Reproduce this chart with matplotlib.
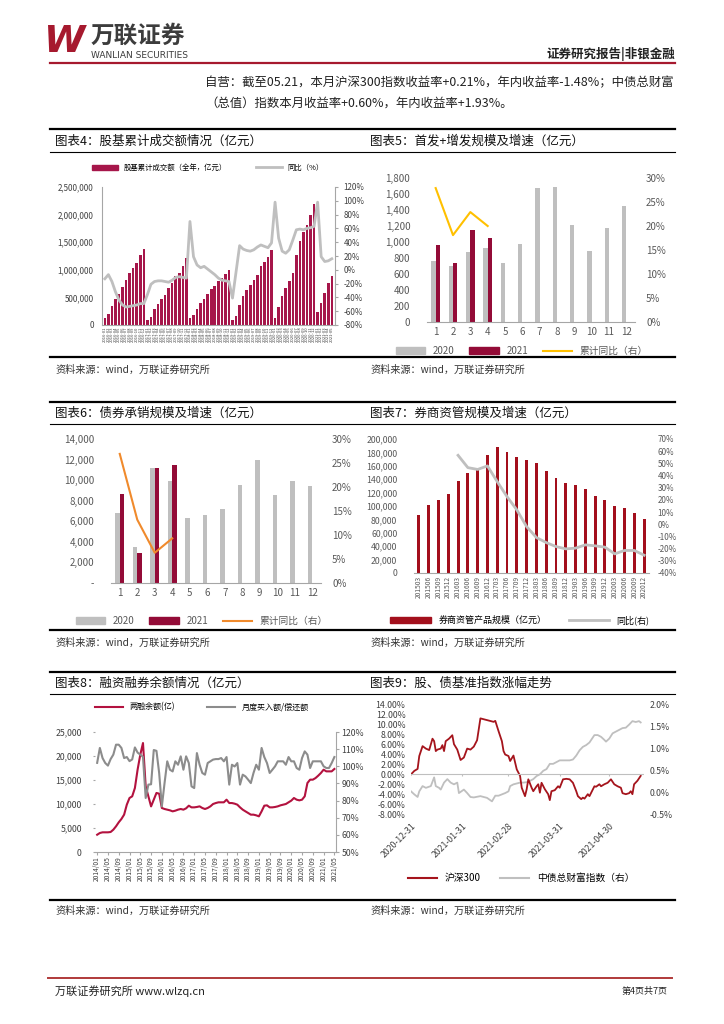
import matplotlib
matplotlib.use('Agg')
import matplotlib.pyplot as plt
from matplotlib.lines import Line2D
from matplotlib.patches import Patch
from matplotlib.ticker import FuncFormatter
import numpy as np

plt.rcParams['font.family'] = ['Noto Sans CJK SC', 'DejaVu Sans']
plt.rcParams['axes.unicode_minus'] = False

W, H = 724, 1024

# chart 4: stock + fund cumulative turnover (亿元) and yoy (%)
turn_2016 = [130000, 200000, 350000, 470000, 570000, 680000, 820000, 940000, 1030000, 1120000, 1270000, 1380000]
turn_2017 = [85000, 150000, 290000, 380000, 480000, 550000, 670000, 760000, 890000, 950000, 1060000, 1220000]
turn_2018 = [130000, 180000, 290000, 390000, 480000, 560000, 650000, 710000, 790000, 850000, 930000, 1000000]
turn_2019 = [85000, 160000, 360000, 530000, 640000, 730000, 820000, 900000, 1060000, 1140000, 1240000, 1360000]
turn_2020 = [120000, 330000, 530000, 670000, 790000, 940000, 1270000, 1520000, 1680000, 1820000, 2000000, 2200000]
turn_2021 = [230000, 390000, 580000, 760000, 880000]
yoy_2016 = [-13, -7, -17, -32, -44, -51, -54, -53, -52, -51, -49, -49]
yoy_2017 = [-36, -21, -17, -16, -16, -17, -18, -15, -11, -10, -11, -12]
yoy_2018 = [70, 19, 7, 3, 5, 1, -3, -7, -12, -15, -16, -17]
yoy_2019 = [-41, -3, 35, 30, 28, 27, 29, 33, 36, 34, 32, 39]
yoy_2020 = [98, 46, 27, 24, 29, 43, 58, 59, 58, 60, 61, 63]
yoy_2021 = [98, 19, 12, 13, 16]
years_4 = ['2016', '2017', '2018', '2019', '2020', '2021']

# chart 5 / 6: months 1-12
months = ['1', '2', '3', '4', '5', '6', '7', '8', '9', '10', '11', '12']
ipo_2020 = [760, 700, 880, 925, 740, 980, 1680, 1690, 1210, 890, 1170, 1455]
ipo_2021 = [962, 741, 1151, 1046]
ipo_yoy = [27.9, 18.1, 22.9, 20.0]
bond_2020 = [6850, 3470, 11140, 9900, 6360, 6590, 7210, 9480, 11950, 8540, 9900, 9420]
bond_2021 = [8700, 2920, 11140, 11430]
bond_yoy = [26.9, 13.2, 6.3, 9.3]

# chart 7: broker asset management
quarters = ['201503', '201506', '201509', '201512', '201603', '201606', '201609', '201612',
            '201703', '201706', '201709', '201712', '201803', '201806', '201809', '201812',
            '201903', '201906', '201909', '201912', '202003', '202006', '202009', '202012']
am_size = [87000, 102000, 109000, 118000, 137000, 149000, 156000, 176000, 187500, 180500, 173000, 168500,
           164500, 152000, 141500, 134000, 132000, 125000, 115000, 109000, 100000, 97000, 90000, 80000]
am_yoy = [56.6, 46.5, 45.0, 47.9, 35.0, 22.7, 11.8, -1.9, -10.9, -15.0, -18.3, -20.2,
          -19.6, -16.9, -17.7, -18.8, -24.3, -21.5, -21.5, -25.4]

# chart 8: margin balance (monthly, 2014/01 - 2021/05)
margin_bal = [3600, 3960, 4100, 4100, 4100, 4170, 4650, 5350, 6180, 6880, 7780, 9860,
              11250, 11600, 13330, 17150, 20280, 22700, 13700, 11600, 9500, 10900, 12300, 12150,
              9170, 8960, 8820, 8680, 8470, 8610, 8820, 8960, 8820, 9100, 9650, 9300,
              9300, 9380, 9510, 9170, 8960, 9170, 9510, 10000, 10200, 10350, 10350, 10350,
              10900, 10200, 10200, 10070, 9860, 9300, 8820, 8470, 8130, 7780, 7780, 7640,
              7430, 8470, 9650, 9720, 9300, 9300, 9380, 9510, 9720, 9860, 10000, 10350,
              10700, 11250, 10900, 10760, 10900, 11600, 14375, 15070, 15070, 15400, 15900, 16460,
              17150, 16800, 16800, 16800, 17300]
buy_repay = [102, 110.7, 104.8, 101.9, 100.4, 104.2, 106.8, 112.6, 112.6, 110.7, 104.8, 105.4,
             103, 104, 111, 108, 106.8, 105.5, 81.5, 89.3, 89.5, 109.5, 109, 96.1,
             76.6, 90.2, 102.9, 98, 97, 102.9, 100.9, 105.8, 98, 105.8, 101.9, 88.3,
             87.3, 107.7, 100.9, 96.1, 95.1, 101.9, 102.9, 103.9, 104.2, 104.2, 104.8, 102.9,
             105.4, 89.3, 100.9, 99.9, 101.9, 89.3, 95.1, 94.1, 92.2, 90.2, 96.1, 100.9,
             98, 110.7, 105.4, 101.9, 96.1, 98, 100, 102.9, 102.9, 102.9, 100.9, 105.4,
             102.9, 102.9, 99, 98, 104.8, 108.7, 106.8, 99, 102.9, 102.9, 102.9, 102.9,
             100, 99, 99, 101.9, 105.4]
margin_ticks = ['2014/01', '2014/05', '2014/09', '2015/01', '2015/05', '2015/09', '2016/01', '2016/05',
                '2016/09', '2017/01', '2017/05', '2017/09', '2018/01', '2018/05', '2018/09', '2019/01',
                '2019/05', '2019/09', '2020/01', '2020/05', '2020/09', '2021/01', '2021/05']

# chart 9: days since 2020-12-31
hs300_day = [0, 2, 4, 5, 7, 9, 11, 13, 14, 15, 16, 18, 19, 20, 21, 23, 25, 26, 28, 30,
             32, 34, 36, 38, 40, 42, 50, 51, 53, 55, 56, 57, 59, 60, 62, 63, 64, 66, 67, 69,
             70, 71, 73, 74, 76, 77, 78, 79, 81, 83, 84, 85, 87, 89, 90, 92, 94, 96, 98, 100,
             101, 103, 104, 105, 107, 108, 111, 112, 114, 115, 117, 119, 121, 123, 125, 127, 128, 130, 132, 133,
             134, 135, 137, 139]
hs300_ret = [0, 0.7, 1.1, 3.7, 5.7, 5.2, 4.9, 7.2, 6.7, 4.7, 5.0, 5.2, 5.9, 4.7, 6.7, 7.2, 7.9, 6.1, 5.0, 2.9,
             3.4, 5.2, 5.0, 5.6, 6.9, 11.3, 10.6, 10.8, 8.7, 6.7, 4.7, 4.0, 3.7, 2.7, 3.8, 2.4, 1.0, -0.3, -2.7, -4.4,
             -3.0, -1.0, -2.7, -3.4, -2.4, -2.0, -3.7, -1.7, -3.0, -4.0, -5.2, -3.4, -3.2, -2.4, -2.7, -1.0, -0.9, -1.0, -1.7, -3.4,
             -4.4, -5.0, -4.7, -4.9, -4.0, -4.4, -2.4, -2.5, -2.0, -2.4, -2.0, -1.7, -1.0, -2.0, -2.4, -2.7, -3.8, -4.0, -3.8, -3.4,
             -4.0, -2.0, -1.3, -0.3]
bond_day = [0, 2, 4, 5, 7, 9, 12, 14, 15, 17, 18, 20, 22, 24, 26, 28, 29, 32, 34, 36,
            38, 42, 46, 49, 51, 53, 55, 57, 59, 60, 62, 64, 66, 68, 70, 72, 74, 76, 78, 80,
            82, 84, 86, 88, 90, 92, 94, 96, 98, 100, 102, 104, 106, 108, 111, 113, 115, 117, 118, 120,
            122, 124, 126, 128, 130, 132, 134, 136, 138, 139]
bond_ret = [0.02, -0.05, -0.11, 0.02, 0.14, 0.10, 0.14, 0.34, 0.14, 0.10, 0.06, 0.22, 0.30, 0.22, 0.18, 0.22, -0.02, 0.06, -0.02, -0.11,
            -0.12, -0.09, -0.13, -0.21, -0.08, -0.08, -0.05, -0.02, 0.02, 0.14, 0.18, 0.20, 0.22, 0.22, 0.23, 0.26, 0.30, 0.37, 0.41, 0.49,
            0.53, 0.65, 0.65, 0.69, 0.73, 0.73, 0.73, 0.73, 0.75, 0.84, 0.96, 1.04, 1.08, 1.14, 1.31, 1.31, 1.27, 1.20, 1.16, 1.23,
            1.35, 1.39, 1.43, 1.47, 1.48, 1.55, 1.63, 1.61, 1.63, 1.60]
date_ticks = [0, 31, 59, 90, 120]
date_labels = ['2020-12-31', '2021-01-31', '2021-02-28', '2021-03-31', '2021-04-30']

GRAY = '#BFBFBF'
TXT = '#404040'

fig = plt.figure(figsize=(W / 100, H / 100), dpi=100)


def px_axes(x0, y0, x1, y1):
    return fig.add_axes([x0 / W, 1 - y1 / H, (x1 - x0) / W, (y1 - y0) / H])


def put(x, y, s, **kw):
    kw.setdefault('va', 'center')
    fig.text(x / W, 1 - y / H, s, **kw)


def rule(x0, x1, y, lw=1.5, color='black'):
    fig.add_artist(Line2D([x0 / W, x1 / W], [1 - y / H, 1 - y / H], lw=lw, color=color))


def legend_at(cx, cy, handles, labels, ncol, fs=6.5, **kw):
    fig.legend(handles, labels, loc='center', bbox_to_anchor=(cx / W, 1 - cy / H), ncol=ncol,
               frameon=False, fontsize=fs, **kw)


def clean(ax, keep=()):
    for s in ax.spines:
        ax.spines[s].set_visible(s in keep)
        ax.spines[s].set_color('#A6A6A6')
        ax.spines[s].set_linewidth(0.8)


comma = FuncFormatter(lambda v, p: f'{int(v):,}')

# ---- header
put(44, 42, 'W', fontsize=27, fontweight='bold', style='italic', color='#A6192E', family='DejaVu Sans')
put(91, 36, '万联证券', fontsize=17, fontweight='bold', color='#3C3C3C')
put(91, 56, 'WANLIAN SECURITIES', fontsize=6.5, color='#3C3C3C', family='DejaVu Sans')
put(675, 54, '证券研究报告|非银金融', fontsize=9, fontweight='bold', ha='right', color='#222222')
rule(50, 675, 63, lw=1.6, color='#A6192E')
put(205, 83, '自营：截至05.21，本月沪深300指数收益率+0.21%，年内收益率-1.48%；中债总财富', fontsize=8.95, color='#222222')
put(205, 103, '（总值）指数本月收益率+0.60%，年内收益率+1.93%。', fontsize=8.95, color='#222222')

# ---- section frames
for top, tit, sub, bot, src, t_left, t_right in [
        (129, 141, 152, 357, 370, '图表4：股基累计成交额情况（亿元）', '图表5：首发+增发规模及增速（亿元）'),
        (402, 413, 424, 630, 643, '图表6：债券承销规模及增速（亿元）', '图表7：券商资管规模及增速（亿元）'),
        (672, 683, 694, 900, 911, '图表8：融资融券余额情况（亿元）', '图表9：股、债基准指数涨幅走势')]:
    rule(50, 675, top, lw=1.6)
    rule(50, 675, sub, lw=0.8)
    rule(50, 675, bot, lw=1.6)
    put(55, tit, t_left, fontsize=9, color='#111111')
    put(370, tit, t_right, fontsize=9, color='#111111')
    put(55, src, '资料来源：wind，万联证券研究所', fontsize=7.3, color='#333333')
    put(370, src, '资料来源：wind，万联证券研究所', fontsize=7.3, color='#333333')

# ---- chart 4
turnover = turn_2016 + turn_2017 + turn_2018 + turn_2019 + turn_2020 + turn_2021
turn_yoy = yoy_2016 + yoy_2017 + yoy_2018 + yoy_2019 + yoy_2020 + yoy_2021
labels_4 = [f'{y}-{m:02d}' for y in years_4 for m in range(1, 13)][:len(turnover)]
RED4 = '#A6164A'
ax = px_axes(102, 187, 335, 325)
x4 = np.arange(len(turnover))
ax.bar(x4, turnover, width=0.72, color=RED4)
ax.set_xlim(-0.8, len(turnover) - 0.1)
ax.set_ylim(0, 2500000)
ax.set_yticks(np.arange(0, 2500001, 500000))
ax.yaxis.set_major_formatter(comma)
ax.set_xticks(x4)
ax.set_xticklabels(labels_4, rotation=90, fontsize=3, color=TXT)
ax.tick_params(axis='y', labelsize=5.8, labelcolor=TXT, length=0, pad=6)
ax.tick_params(axis='x', length=0, pad=1)
clean(ax, ('left', 'bottom'))
ax2 = ax.twinx()
ax2.plot(x4, turn_yoy, color=GRAY, lw=2)
ax2.set_ylim(-80, 120)
ax2.set_yticks(np.arange(-80, 121, 20))
ax2.yaxis.set_major_formatter(FuncFormatter(lambda v, p: f'{int(v)}%'))
ax2.tick_params(labelsize=5.8, labelcolor=TXT, length=2.5, color='#A6A6A6')
clean(ax2, ('right',))
legend_at(208, 168, [Patch(color=RED4), Line2D([], [], color=GRAY, lw=2)],
          ['股基累计成交额（全年，亿元）', '同比（%）'], 2, fs=5.3, handlelength=3.5, columnspacing=4)

# ---- chart 5
x12 = np.arange(12)
C21 = '#930B37'
ax = px_axes(427, 178, 635, 322)
ax.bar(x12 - 0.12, ipo_2020, width=0.25, color=GRAY)
ax.bar(x12[:4] + 0.12, ipo_2021, width=0.25, color=C21)
ax.set_xlim(-0.5, 11.5)
ax.set_ylim(0, 1800)
ax.set_yticks(np.arange(0, 1801, 200))
ax.yaxis.set_major_formatter(comma)
ax.set_xticks(x12)
ax.set_xticklabels(months)
ax.tick_params(labelsize=7, labelcolor='#595959', length=0)
ax.tick_params(axis='y', pad=12)
clean(ax, ('bottom',))
ax2 = ax.twinx()
ax2.plot(x12[:4], ipo_yoy, color='#FFC000', lw=1.5)
ax2.set_ylim(0, 30)
ax2.set_yticks(np.arange(0, 31, 5))
ax2.yaxis.set_major_formatter(FuncFormatter(lambda v, p: f'{int(v)}%'))
ax2.tick_params(labelsize=7, labelcolor='#595959', length=0, pad=8)
clean(ax2)
legend_at(522, 351, [Patch(color=GRAY), Patch(color=C21), Line2D([], [], color='#FFC000', lw=1.5)],
          ['2020', '2021', '累计同比（右）'], 3, fs=7, handlelength=3, handleheight=0.6, columnspacing=1.5,
          labelcolor='#595959')

# ---- chart 6
ax = px_axes(111, 439, 321, 583)
ax.bar(x12 - 0.12, bond_2020, width=0.25, color=GRAY)
ax.bar(x12[:4] + 0.12, bond_2021, width=0.25, color=C21)
ax.set_xlim(-0.5, 11.5)
ax.set_ylim(0, 14000)
ax.set_yticks(np.arange(0, 14001, 2000))
ax.yaxis.set_major_formatter(FuncFormatter(lambda v, p: '-' if v == 0 else f'{int(v):,}'))
ax.set_xticks(x12)
ax.set_xticklabels(months)
ax.tick_params(labelsize=7, labelcolor='#595959', length=0)
ax.tick_params(axis='y', pad=12)
clean(ax, ('bottom',))
ax2 = ax.twinx()
ax2.plot(x12[:4], bond_yoy, color='#F08A2C', lw=1.5)
ax2.set_ylim(0, 30)
ax2.set_yticks(np.arange(0, 31, 5))
ax2.yaxis.set_major_formatter(FuncFormatter(lambda v, p: f'{int(v)}%'))
ax2.tick_params(labelsize=7, labelcolor='#595959', length=0, pad=8)
clean(ax2)
legend_at(202, 621, [Patch(color=GRAY), Patch(color=C21), Line2D([], [], color='#F08A2C', lw=1.5)],
          ['2020', '2021', '累计同比（右）'], 3, fs=7, handlelength=3, handleheight=0.6, columnspacing=1.5,
          labelcolor='#595959')

# ---- chart 7
RED7 = '#A30F1C'
ax = px_axes(414, 439, 649, 573)
x7 = np.arange(len(quarters))
ax.bar(x7, am_size, width=0.3, color=RED7)
ax.set_xlim(-0.5, len(quarters) - 0.5)
ax.set_ylim(0, 200000)
ax.set_yticks(np.arange(0, 200001, 20000))
ax.yaxis.set_major_formatter(comma)
ax.set_xticks(x7)
ax.set_xticklabels(quarters, rotation=90, fontsize=4.8, color='#595959')
ax.tick_params(axis='y', labelsize=6.3, labelcolor='#595959', length=0, pad=12)
ax.tick_params(axis='x', length=0, pad=2)
clean(ax, ('bottom',))
ax2 = ax.twinx()
ax2.plot(x7[4:], am_yoy, color=GRAY, lw=2)
ax2.set_ylim(-40, 70)
ax2.set_yticks(np.arange(-40, 71, 10))
ax2.yaxis.set_major_formatter(FuncFormatter(lambda v, p: f'{int(v)}%'))
ax2.tick_params(labelsize=5.8, labelcolor='#595959', length=0, pad=6)
clean(ax2)
legend_at(520, 620, [Patch(color=RED7), Line2D([], [], color=GRAY, lw=2)],
          ['券商资管产品规模（亿元）', '同比(右)'], 2, fs=6.5, handlelength=4.5, handleheight=0.6,
          columnspacing=2.5)

# ---- chart 8
RED8 = '#B3123F'
GRAY8 = '#8C8C8C'
ax = px_axes(95, 732, 336, 852)
x8 = np.arange(len(margin_bal))
ax.plot(x8, margin_bal, color=RED8, lw=1.5)
ax.set_xlim(-0.8, len(margin_bal) - 0.4)
ax.set_ylim(0, 25000)
ax.set_yticks(np.arange(0, 25001, 5000))
ax.yaxis.set_major_formatter(comma)
ax.set_xticks(np.arange(0, len(margin_bal), 4))
ax.set_xticklabels(margin_ticks, rotation=90, fontsize=4.8, color=TXT)
ax.tick_params(axis='y', labelsize=6.3, labelcolor=TXT, length=1.5, color='#A6A6A6', pad=8)
ax.tick_params(axis='x', length=2, color='#A6A6A6', pad=1)
clean(ax, ('bottom',))
ax2 = ax.twinx()
ax2.plot(x8, buy_repay, color=GRAY8, lw=1.5)
ax2.set_ylim(50, 120)
ax2.set_yticks(np.arange(50, 121, 10))
ax2.yaxis.set_major_formatter(FuncFormatter(lambda v, p: f'{int(v)}%'))
ax2.tick_params(labelsize=6.3, labelcolor=TXT, length=2, color='#A6A6A6', pad=2)
clean(ax2, ('right',))
legend_at(202, 707, [Line2D([], [], color=RED8, lw=1.5), Line2D([], [], color=GRAY8, lw=1.5)],
          ['两融余额(亿)', '月度买入额/偿还额'], 2, fs=5.8, handlelength=3.5, columnspacing=4)

# ---- chart 9
RED9 = '#A5141C'
ax = px_axes(411, 705, 644, 814)
ax.plot(hs300_day, hs300_ret, color=RED9, lw=1.3)
ax.axhline(0, color='#BFBFBF', lw=0.8)
ax.vlines(date_ticks[1:], -0.35, 0, color='#BFBFBF', lw=0.8)
ax.set_xlim(0, 141)
ax.set_ylim(-8, 14)
ax.set_yticks(np.arange(-8, 15, 2))
ax.yaxis.set_major_formatter(FuncFormatter(lambda v, p: f'{v:.2f}%'))
ax.set_xticks(date_ticks)
ax.set_xticklabels(date_labels, rotation=45, ha='right', rotation_mode='anchor', fontsize=6.3, color=TXT)
ax.tick_params(axis='y', labelsize=6.3, labelcolor=TXT, length=0, pad=4)
ax.tick_params(axis='x', length=0, pad=5)
clean(ax)
ax2 = ax.twinx()
ax2.plot(bond_day, bond_ret, color=GRAY, lw=1.3)
ax2.set_ylim(-0.5, 2.0)
ax2.set_yticks(np.arange(-0.5, 2.01, 0.5))
ax2.yaxis.set_major_formatter(FuncFormatter(lambda v, p: f'{v:.1f}%'))
ax2.tick_params(labelsize=6.3, labelcolor=TXT, length=0, pad=4)
clean(ax2)
ax.set_zorder(ax2.get_zorder() + 1)
ax.patch.set_visible(False)
legend_at(521, 878, [Line2D([], [], color=RED9, lw=1.5), Line2D([], [], color=GRAY, lw=1.5)],
          ['沪深300', '中债总财富指数（右）'], 2, fs=7, handlelength=3, columnspacing=2)

# ---- footer
rule(48, 672, 978, lw=1.4, color='#B03A3A')
put(55, 991, '万联证券研究所 www.wlzq.cn', fontsize=8, color='#222222')
put(668, 991, '第4页共7页', fontsize=6.5, ha='right', color='#222222')

fig.savefig('out.png', dpi=100)
